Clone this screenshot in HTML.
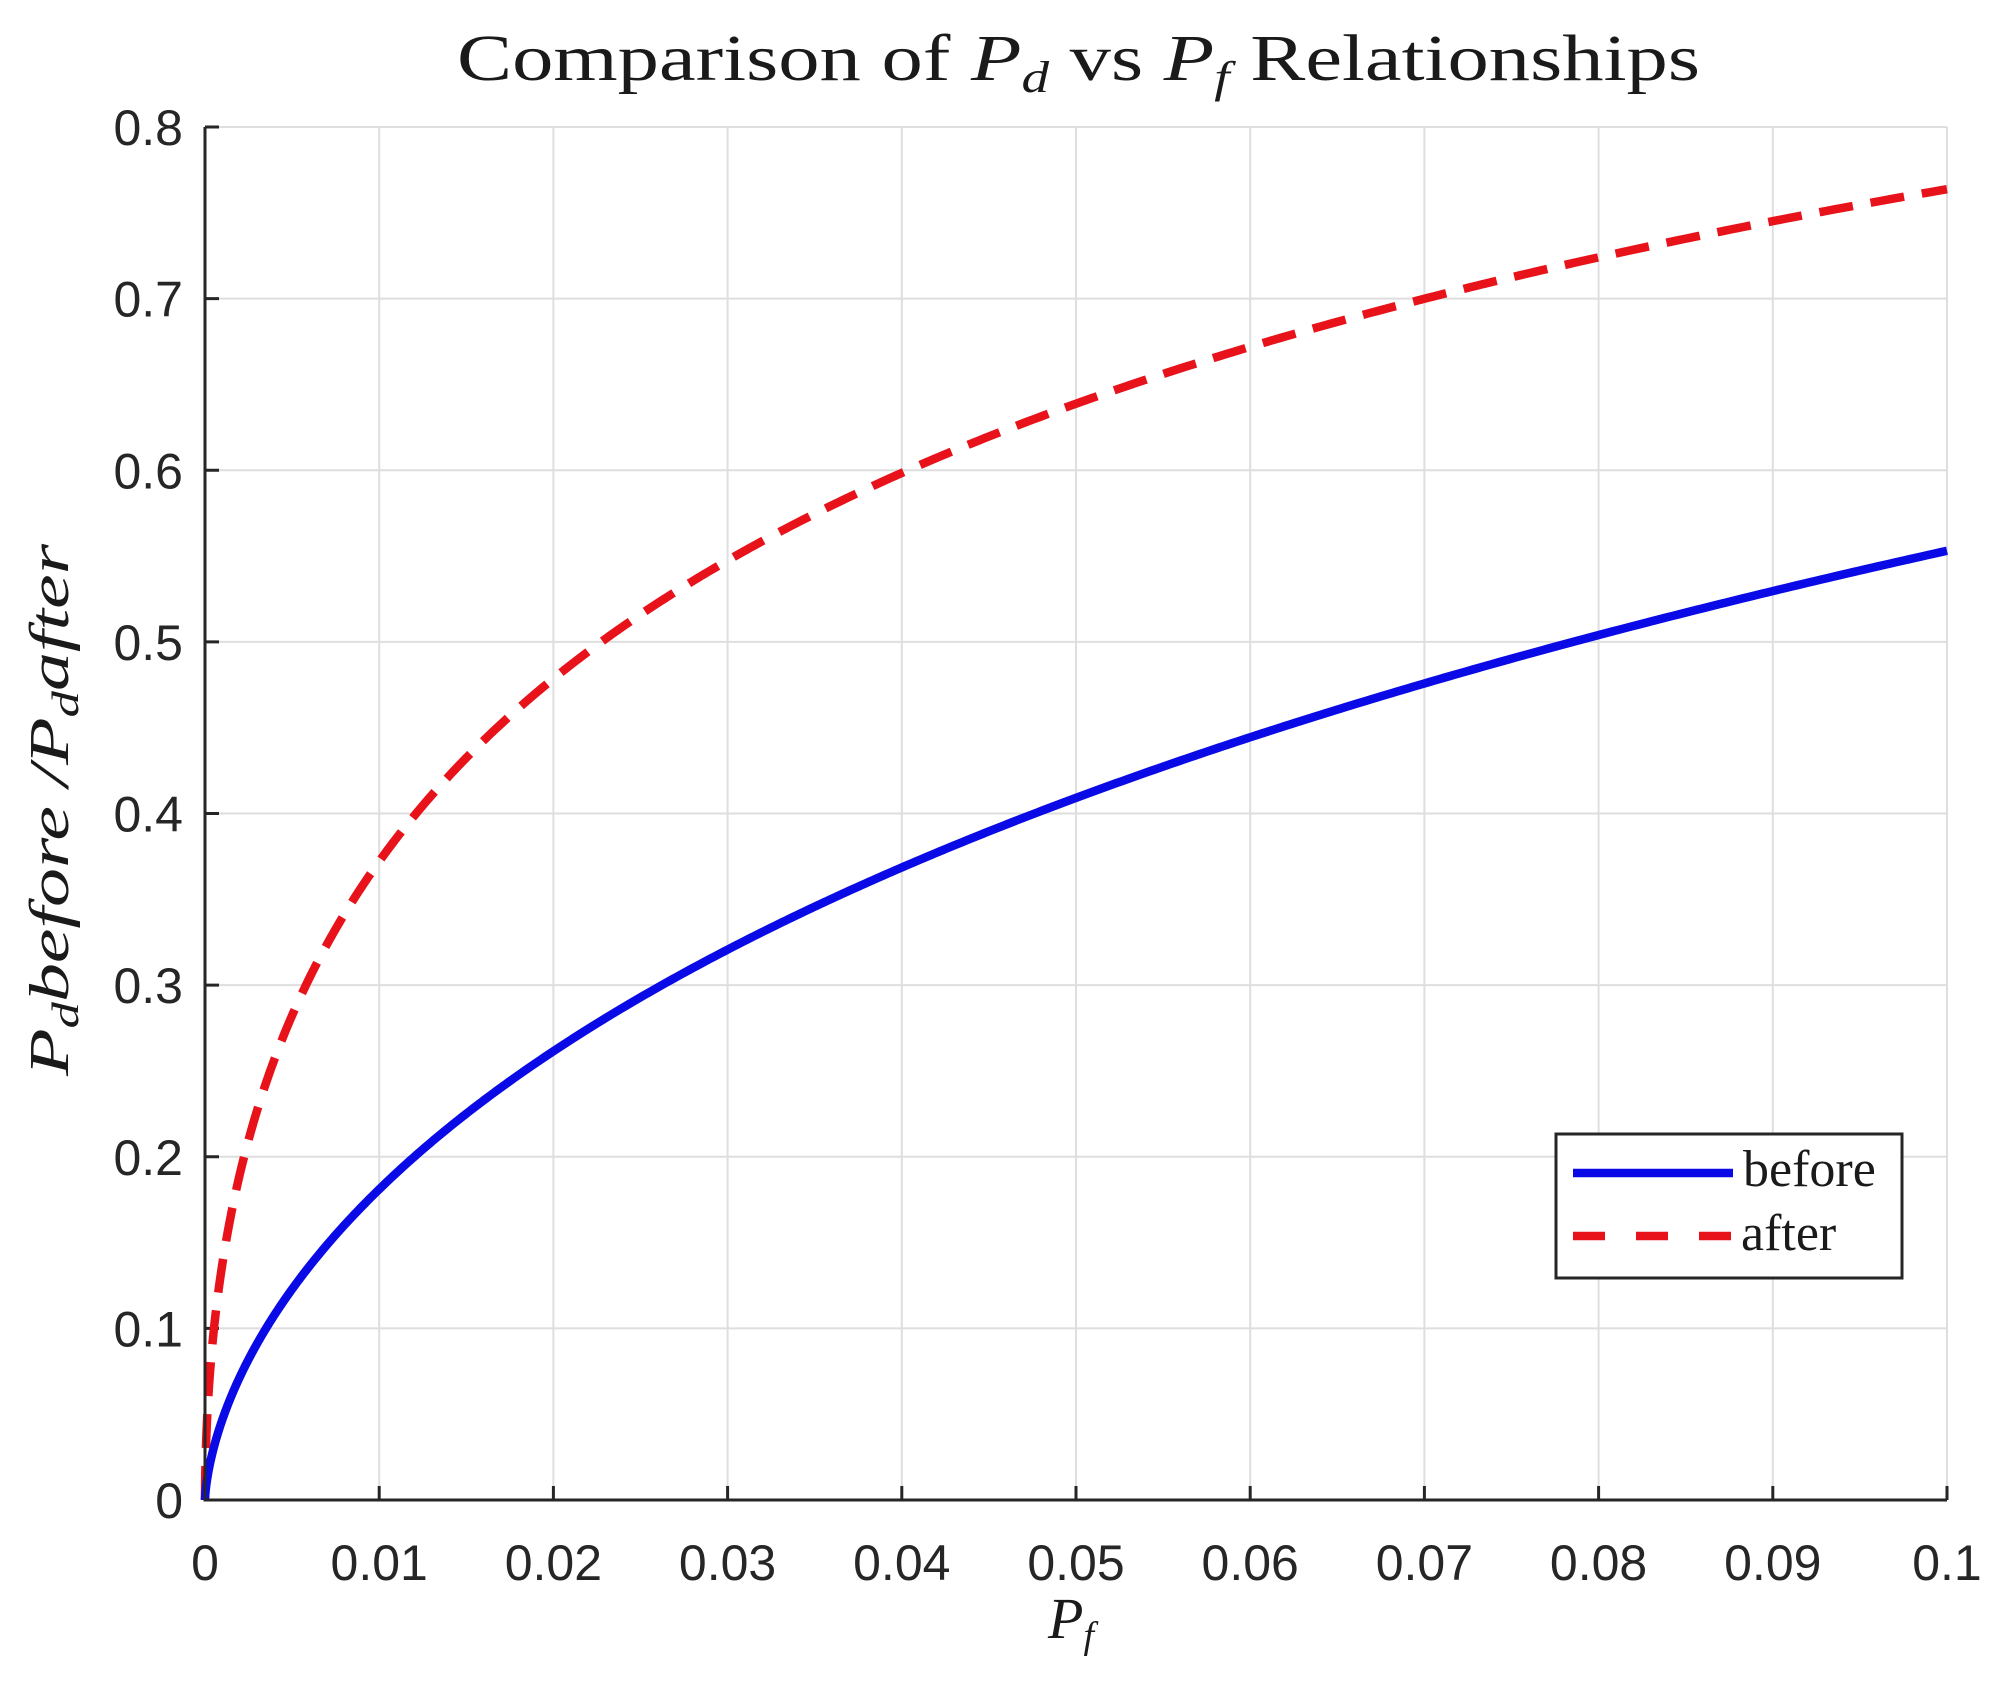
<!DOCTYPE html>
<html><head><meta charset="utf-8"><style>
html,body{margin:0;padding:0;background:#fff;}
svg{display:block;}
.t{font-family:"Liberation Sans",sans-serif;font-size:50px;fill:#262626;}
.s{font-family:"Liberation Serif",serif;fill:#1a1a1a;}
</style></head><body>
<svg id="c" width="2008" height="1687" viewBox="0 0 2008 1687" xmlns="http://www.w3.org/2000/svg">
<rect width="2008" height="1687" fill="#fff"/>
<g id="grid" stroke="#dedede" stroke-width="2"></g>
<g id="ticks" stroke="#262626" stroke-width="3"></g>
<g id="labels"></g>
<path id="after" fill="none" stroke="#e8121a" stroke-width="8.5" stroke-dasharray="34,18"/>
<path id="before" fill="none" stroke="#0a0ae6" stroke-width="8.5"/>
<path d="M205,127 V1500 H1947" fill="none" stroke="#262626" stroke-width="3"/>
<text class="s" x="457" y="80" font-size="66" textLength="1243" lengthAdjust="spacingAndGlyphs">Comparison of <tspan font-style="italic">P</tspan><tspan font-style="italic" font-size="44" dy="12">d</tspan><tspan dy="-12"> vs </tspan><tspan font-style="italic">P</tspan><tspan font-style="italic" font-size="44" dy="12">f</tspan><tspan dy="-12"> Relationships</tspan></text>
<text class="s" x="1048" y="1638" font-size="58" font-style="italic" fill="#333">P<tspan font-size="38" dy="10">f</tspan></text>
<text class="s" transform="translate(68,1076) rotate(-90)" font-size="56" font-style="italic" fill="#444" textLength="532" lengthAdjust="spacingAndGlyphs">P<tspan font-size="38" dy="10">d</tspan><tspan dy="-10">before /P</tspan><tspan font-size="38" dy="10">d</tspan><tspan dy="-10">after</tspan></text>
<rect x="1556" y="1134" width="346" height="144" fill="#fff" stroke="#262626" stroke-width="3"/>
<line x1="1573" y1="1173" x2="1733" y2="1173" stroke="#0a0ae6" stroke-width="8.5"/>
<line x1="1573" y1="1236" x2="1733" y2="1236" stroke="#e8121a" stroke-width="8.5" stroke-dasharray="32,31"/>
<text class="s" x="1743" y="1186" font-size="52">before</text>
<text class="s" x="1741" y="1250" font-size="52">after</text>
</svg>
<script>
var X0=205,X1=1947,Y0=1500,YT=127;
function px(x){return X0+(X1-X0)*x/0.1;}
function py(y){return Y0-(Y0-YT)*y/0.8;}
var g=document.getElementById('grid'),tk=document.getElementById('ticks'),lb=document.getElementById('labels');
var NS='http://www.w3.org/2000/svg';
function el(p,n,a,txt){var e=document.createElementNS(NS,n);for(var k in a)e.setAttribute(k,a[k]);if(txt!=null)e.textContent=txt;p.appendChild(e);return e;}
for(var i=0;i<=10;i++){var x=px(i*0.01);
 if(i>0)el(g,'line',{x1:x,y1:YT,x2:x,y2:Y0});
 el(tk,'line',{x1:x,y1:Y0,x2:x,y2:Y0-14});
 var s=i==0?'0':(i==10?'0.1':'0.0'+i);
 el(lb,'text',{'class':'t',x:x,y:1580,'text-anchor':'middle'},s);}
for(var j=0;j<=8;j++){var y=py(j*0.1);
 if(j>0)el(g,'line',{x1:X0,y1:y,x2:X1,y2:y});
 el(tk,'line',{x1:X0,y1:y,x2:X0+14,y2:y});
 el(lb,'text',{'class':'t',x:183,y:y+18,'text-anchor':'end'},j==0?'0':'0.'+j);}
function erfc(x){var z=Math.abs(x),t=1/(1+0.5*z);
 var r=t*Math.exp(-z*z-1.26551223+t*(1.00002368+t*(0.37409196+t*(0.09678418+t*(-0.18628806+t*(0.27886807+t*(-1.13520398+t*(1.48851587+t*(-0.82215223+t*0.17087277)))))))));
 return x>=0?r:2-r;}
function Q(x){return 0.5*erfc(x/Math.SQRT2);}
function Qinv(p){var lo=-10,hi=10;for(var k=0;k<80;k++){var m=(lo+hi)/2;if(Q(m)>p)lo=m;else hi=m;}return (lo+hi)/2;}
function path(d){var s='M'+px(0)+','+py(0);
 for(var k=1;k<=600;k++){var f=0.1*Math.pow(k/600,2.2);var v=Q(Qinv(f)-d);s+=' L'+px(f).toFixed(2)+','+py(v).toFixed(2);}return s;}
document.getElementById('before').setAttribute('d',path(1.415));
document.getElementById('after').setAttribute('d',path(2.0));
</script>
</body></html>
